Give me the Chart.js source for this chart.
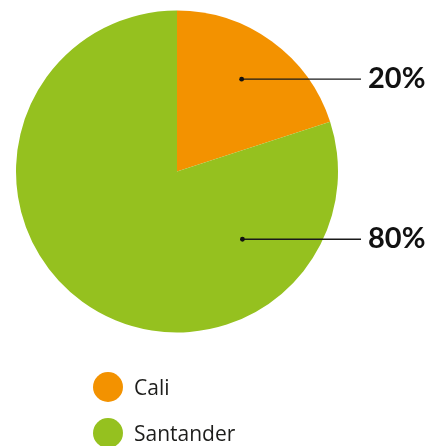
<!DOCTYPE html>
<html>
<head>
<meta charset="utf-8">
<script src="https://cdn.jsdelivr.net/npm/chart.js@4"></script>
<style>
    html, body { margin: 0; padding: 0; background: #ffffff; }
    #wrap { width: 430px; height: 446px; position: relative; }
</style>
</head>
<body>
<div id="wrap"><canvas id="pieChart"></canvas></div>
<script>
const categories = ['Cali', 'Santander'];
const shares = [20, 80];
const sliceLabels = ['20%', '80%'];
const colors = ['#f39200', '#95c11f'];

// where the leader line starts inside each slice (angle from top, fraction of radius)
const anchors = [
    { angle: 35, frac: 0.70 },
    { angle: 136, frac: 0.585 }
];

const calloutPlugin = {
    id: 'callouts',
    afterDraw(chart) {
        const ctx = chart.ctx;
        const arcs = chart.getDatasetMeta(0).data;
        ctx.save();
        arcs.forEach((arc, i) => {
            const { x, y, outerRadius } = arc.getProps(['x', 'y', 'outerRadius'], true);
            const a = anchors[i].angle * Math.PI / 180;
            const r = outerRadius * anchors[i].frac;
            const px = x + r * Math.sin(a);
            const py = y - r * Math.cos(a);

            ctx.strokeStyle = '#1a1a1a';
            ctx.lineWidth = 1.3;
            ctx.beginPath();
            ctx.moveTo(px, py);
            ctx.lineTo(361, py);
            ctx.stroke();

            ctx.fillStyle = '#111111';
            ctx.beginPath();
            ctx.arc(px, py, 2.4, 0, Math.PI * 2);
            ctx.fill();

            ctx.font = '700 29px Lato';
            ctx.textAlign = 'left';
            ctx.textBaseline = 'alphabetic';
            ctx.fillText(sliceLabels[i], 368, py + 9);
        });

        // legend
        categories.forEach((name, i) => {
            const cy = 387 + i * 46;
            ctx.fillStyle = colors[i];
            ctx.beginPath();
            ctx.arc(108, cy, 15, 0, Math.PI * 2);
            ctx.fill();

            ctx.fillStyle = '#1d1d1b';
            ctx.font = '400 21px "Open Sans"';
            ctx.textBaseline = 'alphabetic';
            ctx.fillText(name, 134, cy + 7.5);
        });
        ctx.restore();
    }
};

new Chart(document.getElementById('pieChart'), {
    type: 'pie',
    data: {
        labels: categories,
        datasets: [{
            data: shares,
            backgroundColor: colors,
            borderWidth: 0
        }]
    },
    options: {
        responsive: true,
        maintainAspectRatio: false,
        animation: false,
        layout: {
            padding: { left: 16, top: 10, right: 92, bottom: 113 }
        },
        plugins: {
            legend: { display: false },
            tooltip: { enabled: false }
        }
    },
    plugins: [calloutPlugin]
});
</script>
</body>
</html>
